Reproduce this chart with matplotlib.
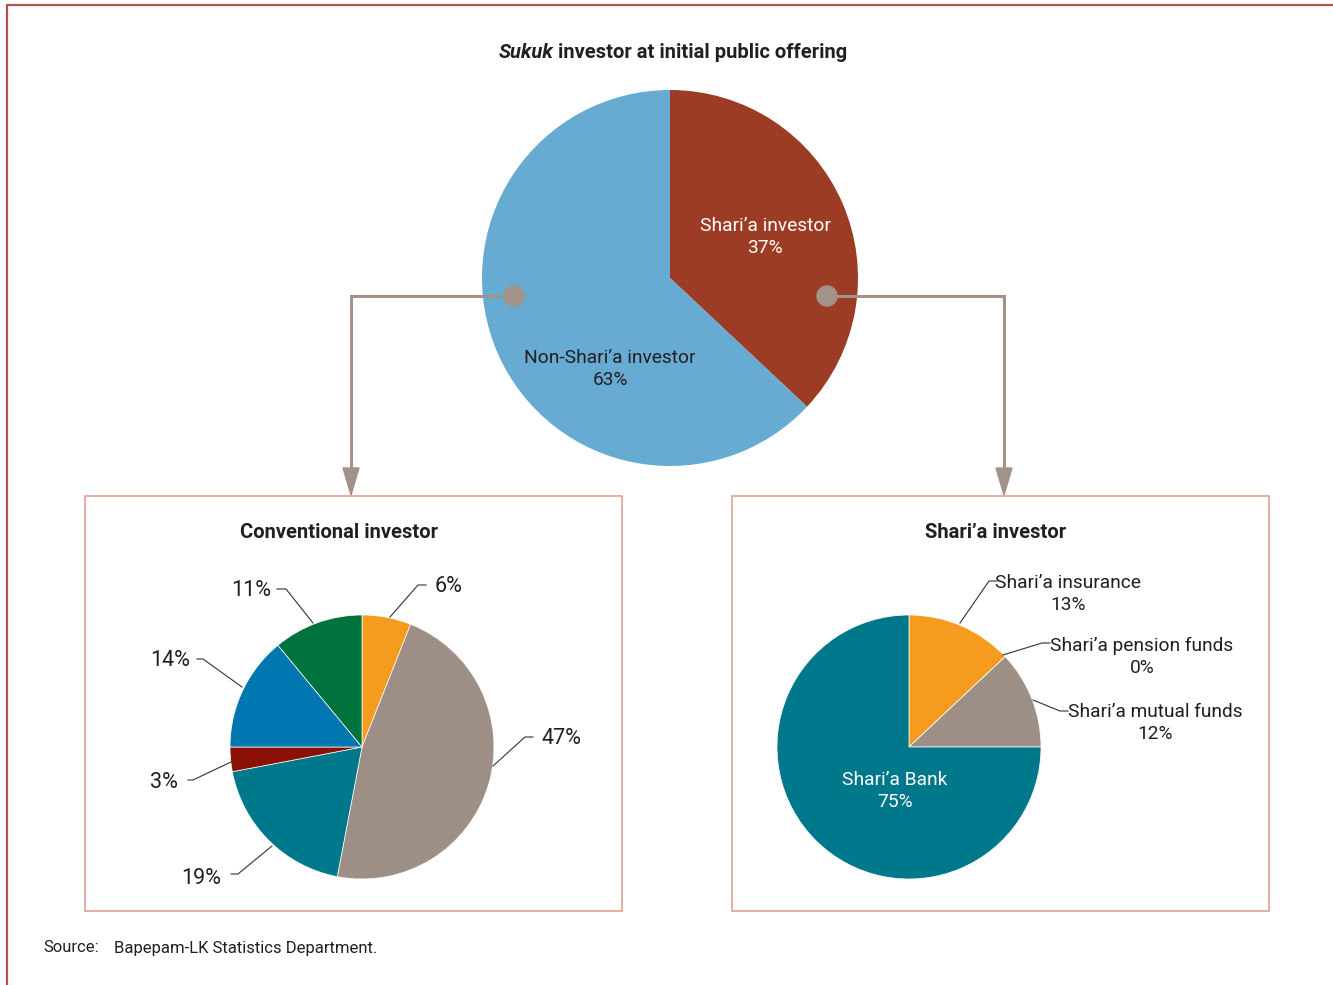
import matplotlib.pyplot as plt
from matplotlib.patches import Rectangle, Circle, Polygon

# data
main_labels = ['Shari’a investor', 'Non-Shari’a investor']
main_values = [37, 63]

conv_values = [6, 47, 19, 3, 14, 11]
conv_labels = ['6%', '47%', '19%', '3%', '14%', '11%']

sharia_labels = ['Shari’a insurance', 'Shari’a pension funds', 'Shari’a mutual funds', 'Shari’a Bank']
sharia_values = [13, 0, 12, 75]

# styling
FONT = ['Liberation Sans Narrow', 'Roboto', 'DejaVu Sans']
TXT = '#231f20'
GREY = '#a39289'
FS = 13.8
main_colors = ['#9c3c24', '#68abd2']
conv_colors = ['#f59b1e', '#9e8f86', '#00788c', '#8b1005', '#0077b0', '#00733c']
sharia_colors = ['#f59b1e', '#9e8f86', '#9e8f86', '#00788c']

W, H = 1333, 985
fig = plt.figure(figsize=(W / 100, H / 100), dpi=100)
ax = fig.add_axes([0, 0, 1, 1])

# pies (y axis is inverted below, so counterclock=True draws clockwise)
pie_kw = dict(startangle=-90, counterclock=True, frame=True)
ax.pie(main_values, colors=main_colors, center=(670, 278), radius=188,
       wedgeprops=dict(linewidth=0), **pie_kw)
ax.pie(conv_values, colors=conv_colors, center=(362, 747), radius=132,
       wedgeprops=dict(linewidth=0.5, edgecolor='white'), **pie_kw)
ax.pie(sharia_values, colors=sharia_colors, center=(909, 747), radius=132,
       wedgeprops=dict(linewidth=0.5, edgecolor='white'), **pie_kw)

ax.set_xlim(0, W)
ax.set_ylim(H, 0)
ax.set_aspect('auto')
ax.axis('off')

# outer frame
ax.plot([7, 7, W], [H, 5, 5], color='#b0534b', lw=1.6, solid_capstyle='butt')

# sub-chart boxes
for x0 in (85, 732):
    ax.add_patch(Rectangle((x0, 496), 537, 415, fill=False, ec='#dc9a86', lw=1.1))

# connectors
for dot_x, line_x in ((514, 351), (827, 1004)):
    ax.plot([dot_x, line_x, line_x], [296, 296, 470], color=GREY, lw=2.2,
            solid_joinstyle='miter')
    ax.add_patch(Circle((dot_x, 296), 10, color=GREY, zorder=5))
    ax.add_patch(Polygon([(line_x - 8, 468), (line_x + 8, 468), (line_x, 495)],
                         closed=True, color=GREY, zorder=5))

# main pie labels
ax.text(765, 237, f'{main_labels[0]}\n{main_values[0]}%', color='white', ha='center',
        va='center', fontsize=FS, family=FONT, linespacing=1.35)
ax.text(610, 369, f'{main_labels[1]}\n{main_values[1]}%', color=TXT, ha='center',
        va='center', fontsize=FS, family=FONT, linespacing=1.35)

# title
r = fig.canvas.get_renderer()
t1 = ax.text(0, 52, 'Sukuk', fontsize=14.5, fontweight='bold', fontstyle='italic',
             family=FONT, color=TXT, va='center')
t2 = ax.text(0, 52, 'investor at initial public offering', fontsize=14.5,
             fontweight='bold', family=FONT, color=TXT, va='center')
w1 = t1.get_window_extent(r).width
w2 = t2.get_window_extent(r).width
gap = 5
x0 = 673 - (w1 + gap + w2) / 2
t1.set_x(x0)
t2.set_x(x0 + w1 + gap)

# box titles
ax.text(339, 533, 'Conventional investor', fontsize=14.5, fontweight='bold',
        family=FONT, color=TXT, ha='center', va='center')
ax.text(996, 533, 'Shari’a investor', fontsize=14.5, fontweight='bold',
        family=FONT, color=TXT, ha='center', va='center')

# conventional leaders: (anchor on pie, elbow, line end, text x, text y, ha)
conv_leaders = [
    ((390, 617), (418, 585), (426, 585), 435, 586, 'left'),
    ((493, 766), (525, 737), (533, 737), 542, 739, 'left'),
    ((272, 846), (238, 874), (231, 874), 221, 878, 'right'),
    ((231, 762), (193, 780), (188, 780), 178, 782, 'right'),
    ((242, 687), (203, 659), (197, 659), 190, 660, 'right'),
    ((313, 623), (286, 589), (277, 589), 271, 590, 'right'),
]
for lab, (a, b, c, tx, ty, ha) in zip(conv_labels, conv_leaders):
    ax.plot([a[0], b[0], c[0]], [a[1], b[1], c[1]], color='#333333', lw=0.8)
    ax.text(tx, ty, lab, fontsize=15.5, family=FONT, color=TXT, ha=ha, va='center')

# shari'a leaders
sharia_leaders = [
    ((960, 623), (989, 581), (997, 581), 1068, 594),
    ((1003, 655), (1042, 643), (1050, 643), 1142, 657),
    ((1033, 700), (1060, 711), (1068, 711), 1155, 723),
]
for lab, val, (a, b, c, tx, ty) in zip(sharia_labels, sharia_values, sharia_leaders):
    ax.plot([a[0], b[0], c[0]], [a[1], b[1], c[1]], color='#333333', lw=0.8)
    ax.text(tx, ty, f'{lab}\n{val}%', fontsize=FS, family=FONT, color=TXT,
            ha='center', va='center', linespacing=1.35)

ax.text(895, 791, f'{sharia_labels[3]}\n{sharia_values[3]}%', fontsize=FS,
        family=FONT, color='white', ha='center', va='center', linespacing=1.35)

# source
ax.text(43, 948, 'Source:', fontsize=12, family=FONT, color=TXT, va='center')
ax.text(114, 948, 'Bapepam-LK Statistics Department.', fontsize=12, family=FONT,
        color=TXT, va='center')

fig.savefig('out.png', dpi=100)
